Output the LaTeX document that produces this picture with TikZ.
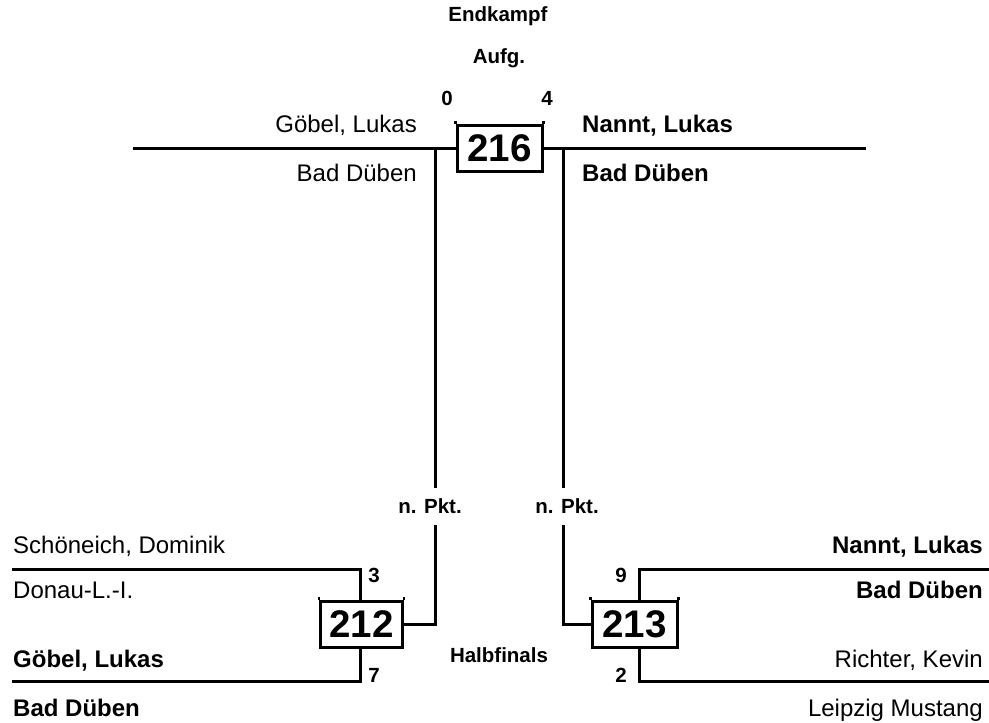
\documentclass[tikz,border=0pt]{standalone}
\usepackage{fontspec}
\setmainfont{Liberation Sans}
\begin{document}
\begin{tikzpicture}[x=1pt,y=-1pt,
  conn/.style={line width=3pt},
  matchbox/.style={draw,line width=3pt,minimum width=85pt,minimum height=46pt,inner sep=0pt,
    font=\bfseries\fontsize{38.5}{38.5}\selectfont},
  pname/.style={inner sep=0pt,font=\fontsize{24}{28}\selectfont},
  bpname/.style={inner sep=0pt,font=\bfseries\fontsize{24}{28}\selectfont},
  lab/.style={inner sep=0pt,anchor=base,font=\bfseries\fontsize{20.5}{24}\selectfont}]
\useasboundingbox (0,0) rectangle (989,723);
% match boxes
\node[matchbox] (m216) at (499.5,148) {216};
\node[matchbox,minimum width=82pt] (m212) at (361.5,624.5) {212};
\node[matchbox] (m213) at (634.5,624.5) {213};
% corner ticks of the boxes
\foreach \b in {m216,m212,m213}{
  \draw[line width=2.5pt] (\b.north west) -- ++(0,-3);
  \draw[line width=2.5pt] (\b.north east) -- ++(0,-3);
}
% headings
\node[lab] (endk) at (498,21) {Endkampf};
\node[lab] (aufg) at (499,63) {Aufg.};
\node[lab] (s0) at (447,105) {0};
\node[lab] (s4) at (547,105) {4};
\node[lab] (np1) at (430,513) {n. Pkt.};
\node[lab] (np2) at (567,513) {n. Pkt.};
\node[lab] (half) at (499,662) {Halbfinals};
\node[lab] (s3) at (374,582) {3};
\node[lab] (s7) at (374,682) {7};
\node[lab] (s9) at (621,582) {9};
\node[lab] (s2) at (621,682) {2};
% top names
\node[pname,anchor=base east] (tgl) at (417,132) {Göbel, Lukas};
\node[pname,anchor=base east] (tgc) at (417,181) {Bad Düben};
\node[bpname,anchor=base west] (tnl) at (582,132) {Nannt, Lukas};
\node[bpname,anchor=base west] (tnc) at (582,181) {Bad Düben};
% bottom-left names
\node[pname,anchor=base west] (sd) at (13,553) {Schöneich, Dominik};
\node[pname,anchor=base west] (sdc) at (13,598) {Donau-L.-I.};
\node[bpname,anchor=base west] (gl) at (13,667) {Göbel, Lukas};
\node[bpname,anchor=base west] (glc) at (13,716) {Bad Düben};
% bottom-right names
\node[bpname,anchor=base east] (nl) at (983,553) {Nannt, Lukas};
\node[bpname,anchor=base east] (nlc) at (983,598) {Bad Düben};
\node[pname,anchor=base east] (rk) at (983,667) {Richter, Kevin};
\node[pname,anchor=base east] (rkc) at (983,716) {Leipzig Mustang};
% coordinates
\coordinate (tL) at (133,148);
\coordinate (tR) at (866,148);
\coordinate (vL1) at (435,148);
\coordinate (vL2) at (435,488);
\coordinate (vL3) at (435,525);
\coordinate (vR1) at (563,148);
\coordinate (vR2) at (563,488);
\coordinate (vR3) at (563,525);
\coordinate (aL) at (12,569);
\coordinate (bL) at (12,681);
\coordinate (aR) at (989,569);
\coordinate (bR) at (989,681);
% connectors
\draw[conn] (tL) -- (m216.west);
\draw[conn] (m216.east) -- (tR);
\draw[conn] (vL1) -- (vL2);
\draw[conn] (vR1) -- (vR2);
\draw[conn] (vL3) |- (m212.east);
\draw[conn] (vR3) |- (m213.west);
\draw[conn] (aL) -| (m212.north-|360,0);
\draw[conn] (bL) -| (m212.south-|360,0);
\draw[conn] (aR) -| (m213.north-|639,0);
\draw[conn] (bR) -| (m213.south-|639,0);
\end{tikzpicture}
\end{document}
